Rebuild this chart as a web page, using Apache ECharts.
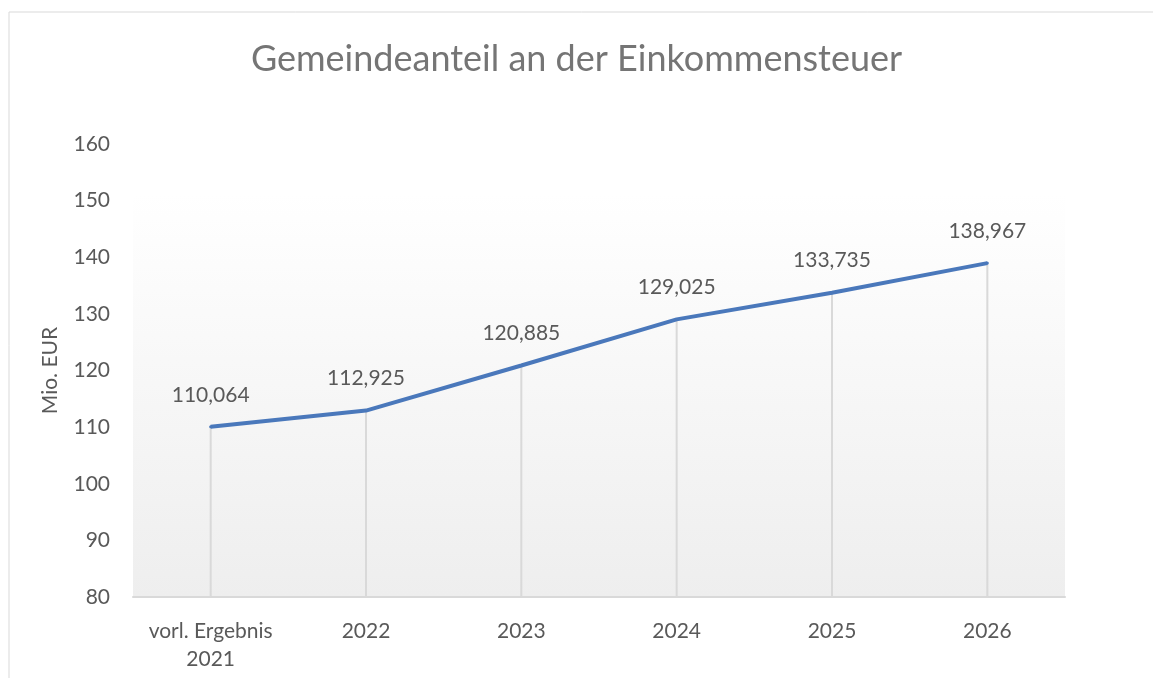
<!DOCTYPE html>
<html>
<head>
<meta charset="utf-8">
<script src="https://cdn.jsdelivr.net/npm/echarts@6/dist/echarts.min.js"></script>
<style>
  html, body { margin: 0; padding: 0; background: #fff; }
  #chart { width: 1153px; height: 678px; }
</style>
</head>
<body>
<div id="chart"></div>
<script>
// Daten
const categories = ['vorl. Ergebnis\n2021', '2022', '2023', '2024', '2025', '2026'];
const values = [110.064, 112.925, 120.885, 129.025, 133.735, 138.967];
const yTicks = { min: 80, max: 160, interval: 10 };

const myChart = echarts.init(document.getElementById('chart'));
const font = 'Lato, "Open Sans", sans-serif';

const option = {
  backgroundColor: '#fff',
  textStyle: { fontFamily: font },
  title: {
    text: 'Gemeindeanteil an der Einkommensteuer',
    left: 'center',
    top: 36,
    textStyle: { fontFamily: font, fontSize: 36, fontWeight: 'normal', color: '#757575' }
  },
  graphic: [{
    type: 'rect',
    shape: { x: 9, y: 12, width: 1200, height: 700 },
    style: { fill: 'none', stroke: '#d9d9d9', lineWidth: 1 },
    silent: true
  }],
  grid: {
    left: 133, right: 88, top: 144, bottom: 81,
    show: true,
    borderWidth: 0,
    backgroundColor: {
      type: 'linear', x: 0, y: 0, x2: 0, y2: 1,
      colorStops: [
        { offset: 0, color: '#ffffff' },
        { offset: 0.11, color: '#ffffff' },
        { offset: 1, color: '#eeeeee' }
      ]
    }
  },
  xAxis: {
    type: 'category',
    data: categories,
    boundaryGap: true,
    axisLine: { lineStyle: { color: '#d9d9d9', width: 2 } },
    axisTick: { show: false },
    axisLabel: { interval: 0, color: '#595959', fontSize: 21, margin: 20, lineHeight: 28, fontFamily: font }
  },
  yAxis: {
    type: 'value',
    min: yTicks.min,
    max: yTicks.max,
    interval: yTicks.interval,
    name: 'Mio. EUR',
    nameLocation: 'middle',
    nameGap: 72,
    nameTextStyle: { color: '#595959', fontSize: 21, fontFamily: font },
    axisLine: { show: false },
    axisTick: { show: false },
    splitLine: { show: false },
    axisLabel: { color: '#595959', fontSize: 21, margin: 23, fontFamily: font }
  },
  series: [
    {
      // Lotlinien
      type: 'bar',
      data: values,
      barWidth: 2,
      itemStyle: { color: '#d9d9d9' },
      silent: true,
      z: 1
    },
    {
      type: 'line',
      data: values,
      showSymbol: true,
      symbol: 'circle',
      symbolSize: 3,
      itemStyle: { color: '#4a78bb' },
      lineStyle: { color: '#4a78bb', width: 4 },
      label: {
        show: true,
        position: 'top',
        distance: 20,
        color: '#595959',
        fontSize: 21,
        fontFamily: font,
        formatter: p => p.value.toFixed(3).replace('.', ',')
      },
      z: 3
    }
  ]
};

option && myChart.setOption(option);
window.addEventListener('resize', function () {
  myChart.resize();
});
</script>
</body>
</html>
